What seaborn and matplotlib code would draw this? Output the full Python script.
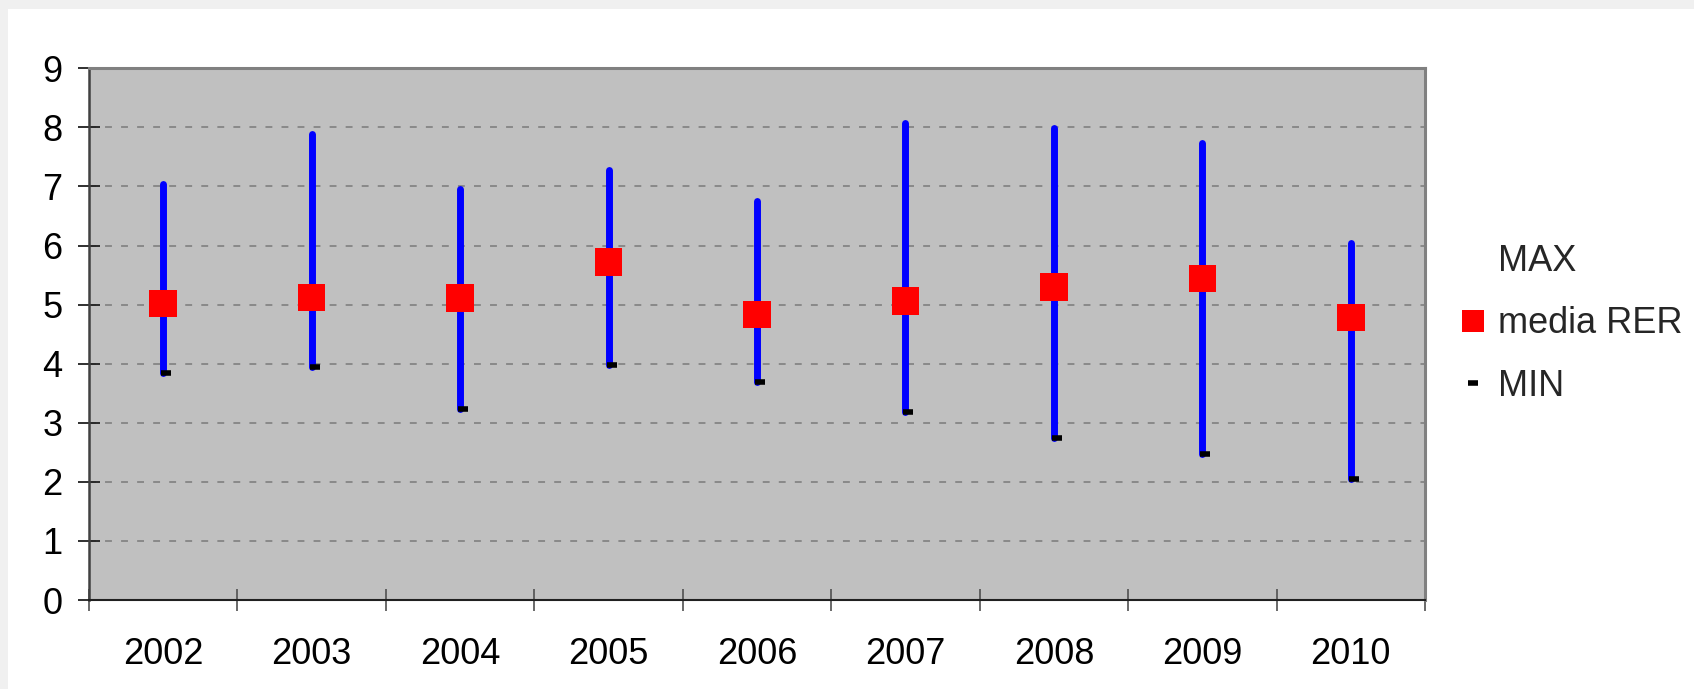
import matplotlib
matplotlib.use("Agg")
import matplotlib.pyplot as plt
import matplotlib.transforms as mtransforms
from matplotlib.lines import Line2D
from matplotlib.patches import Rectangle
import numpy as np
import pandas as pd
import seaborn as sns

# -- data ---------------------------------------------------------------------
years = ["2002", "2003", "2004", "2005", "2006", "2007", "2008", "2009", "2010"]
max_vals = [7.04, 7.89, 6.95, 7.28, 6.76, 8.08, 7.99, 7.74, 6.05]
mean_vals = [5.02, 5.12, 5.11, 5.72, 4.83, 5.06, 5.30, 5.44, 4.78]
min_vals = [3.84, 3.94, 3.23, 3.98, 3.69, 3.18, 2.75, 2.47, 2.05]
y_ticks = list(range(0, 10))

df = pd.DataFrame({"year": years, "max": max_vals, "mean": mean_vals, "min": min_vals})
df["pos"] = np.arange(len(df))

sns.set_theme(style="white")
plt.rcParams["font.family"] = ["Liberation Sans", "DejaVu Sans"]

fig = plt.figure(figsize=(16.94, 6.89), dpi=100, facecolor="#f0f0f0")
fig.patches.append(Rectangle((8 / 1694, 0), 1, 1 - 9 / 689, transform=fig.transFigure,
                             facecolor="white", edgecolor="none", zorder=-10))
ax = fig.add_axes([89 / 1694, 1 - 600 / 689, (1425 - 89) / 1694, (600 - 68.3) / 689])
ax.set_facecolor("#c0c0c0")

# high-low lines
lc = ax.vlines(df["pos"], df["min"], df["max"], color="#0000ff", linewidth=5.0, zorder=3)
lc.set_capstyle("round")

# MIN dash (Excel draws it slightly to the right)
shift = mtransforms.offset_copy(ax.transData, fig=fig, x=3, y=0, units="dots")
ax.plot(df["pos"], df["min"], linestyle="none", marker="_", markersize=6.5,
        markeredgewidth=4, color="black", transform=shift, zorder=4)

# mean squares
sns.scatterplot(data=df, x="pos", y="mean", marker="s", s=395, color="#ff0000",
                edgecolor="none", linewidth=0, ax=ax, zorder=5, legend=False)

ax.set_xlim(-0.5, len(years) - 0.5)
ax.set_ylim(0, 9)
ax.set_yticks(y_ticks)
ax.set_yticklabels([str(t) for t in y_ticks])
ax.set_xticks(df["pos"])
ax.set_xticklabels(years)
ax.set_xticks(np.arange(-0.5, len(years), 1.0), minor=True)
ax.set_xlabel("")
ax.set_ylabel("")

ax.tick_params(axis="y", which="major", direction="inout", length=16, width=1.3,
               color="#202020", labelsize=26, pad=11.2, left=True)
ax.tick_params(axis="x", which="major", length=0, labelsize=26, pad=26.5)
ax.tick_params(axis="x", which="minor", direction="inout", length=16, width=1.2,
               color="#505050", bottom=True)
for lab in ax.get_xticklabels() + ax.get_yticklabels():
    lab.set_color("black")

ax.yaxis.grid(True, color="#7a7a7a", linewidth=1.1, linestyle=(0, (4.5, 6.0)))
ax.xaxis.grid(False)
ax.set_axisbelow(True)

for side in ["top", "right"]:
    ax.spines[side].set_color("#808080")
    ax.spines[side].set_linewidth(2.2)
ax.spines["left"].set_color("#404040")
ax.spines["left"].set_linewidth(1.8)
ax.spines["bottom"].set_color("#202020")
ax.spines["bottom"].set_linewidth(1.5)

handles = [
    Line2D([], [], linestyle="none", marker=None),
    Line2D([], [], linestyle="none", marker="s", markersize=16, color="#ff0000",
           markeredgewidth=0),
    Line2D([], [], linestyle="none", marker="_", markersize=6.5, markeredgewidth=4,
           color="black"),
]
fig.legend(handles, ["MAX", "media RER", "MIN"], loc="center left",
           bbox_to_anchor=(1455 / 1694, 1 - 324 / 689), frameon=False,
           fontsize=26, handlelength=1.0, handletextpad=0.18, labelspacing=0.76,
           borderpad=0, borderaxespad=0)

plt.savefig("out.png", dpi=100, facecolor=fig.get_facecolor())
plt.close()
